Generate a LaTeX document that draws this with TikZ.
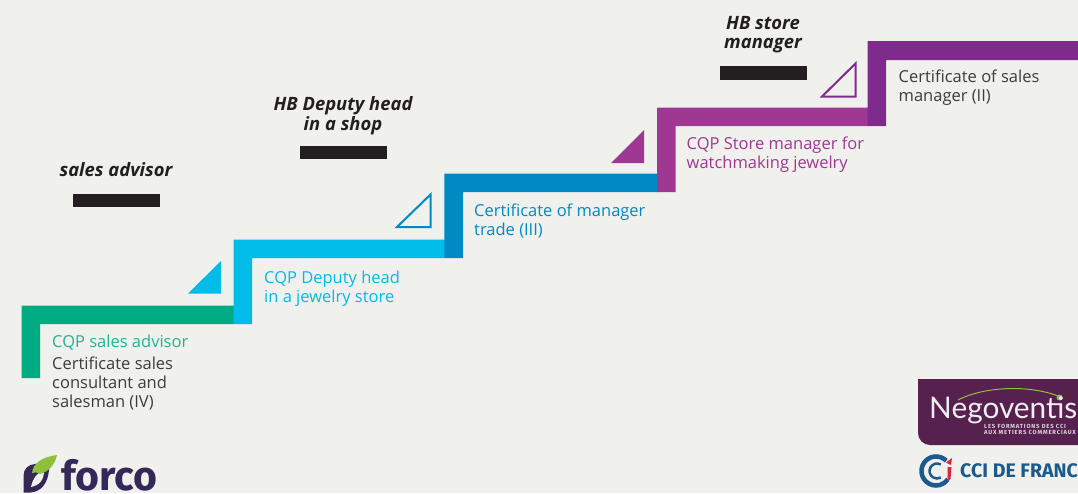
\documentclass[tikz,border=0pt]{standalone}
\usepackage{fontspec}
\setmainfont{Open Sans}
\newfontfamily\logofont{Fira Sans}
\newfontfamily\negofont{Lato}
\newfontfamily\subfont[LetterSpace=14]{Fira Sans}
\definecolor{bgc}{HTML}{F0F0EC}
\definecolor{cgreen}{HTML}{00AB84}
\definecolor{ccyan}{HTML}{00BCE9}
\definecolor{cblue}{HTML}{008AC4}
\definecolor{cpink}{HTML}{9F3893}
\definecolor{cpurple}{HTML}{7F2A8D}
\definecolor{cdark}{HTML}{3C3C3C}
\definecolor{cblack}{HTML}{231F20}
\definecolor{forcoc}{HTML}{352858}
\definecolor{leafc}{HTML}{8FBF3F}
\definecolor{negoc}{HTML}{57214F}
\definecolor{ccic}{HTML}{1B5A8C}
\definecolor{ccir}{HTML}{D9263F}
\tikzset{
  body/.style={anchor=base west,inner sep=0pt,align=left,font=\fontsize{16.5}{18.6}\selectfont},
  head/.style={anchor=base,inner sep=0pt,align=center,text=cblack,font=\fontsize{18.4}{19.5}\selectfont\bfseries\itshape},
  bar/.style={fill=cblack,draw=none},
  tri/.style={line width=2pt,line join=miter}
}
\begin{document}
\begin{tikzpicture}[x=1pt,y=-1pt]
\useasboundingbox (0,0) rectangle (1078,493);
\clip (0,0) rectangle (1078,493);
\fill[bgc] (0,0) rectangle (1078,493);
% steps
\fill[cgreen] (21.5,378) -- (21.5,305.5) -- (234,305.5) -- (234,324) -- (40,324) -- (40,378) -- cycle;
\fill[ccyan] (233.5,324) -- (233.5,239.5) -- (445,239.5) -- (445,258) -- (252,258) -- (252,324) -- cycle;
\fill[cblue] (444.3,258) -- (444.3,173.5) -- (658,173.5) -- (658,192) -- (463,192) -- (463,258) -- cycle;
\fill[cpink] (657,192) -- (657,107.5) -- (868,107.5) -- (868,126) -- (675.5,126) -- (675.5,192) -- cycle;
\fill[cpurple] (867.5,126) -- (867.5,41) -- (1078,41) -- (1078,60) -- (886,60) -- (886,126) -- cycle;
% triangles
\fill[ccyan] (188,293.5) -- (221,261) -- (221,293.5) -- cycle;
\draw[cblue,tri] (397,227) -- (430.5,194.5) -- (430.5,227) -- cycle;
\fill[cpink] (611,163) -- (644,130) -- (644,163) -- cycle;
\draw[cpurple,tri] (822,96.5) -- (855.5,63.5) -- (855.5,96.5) -- cycle;
% bars
\fill[bar] (72.5,193.5) rectangle (160,207);
\fill[bar] (299.5,145.5) rectangle (387,159);
\fill[bar] (720,66) rectangle (807,79.5);
% headings
\node[head] (h1) at (116,176) {sales advisor};
\node[head] (h2) at (343,130) {HB Deputy head\\in a shop};
\node[head] (h3) at (763,48.5) {HB store\\manager};
% step labels
\node[body,text=cgreen!88!white] (t1) at (52,347) {CQP sales advisor};
\node[body,text=cdark] (t1b) at (52,407) {Certificate sales\\consultant and\\salesman (IV)};
\node[body,text=ccyan] (t2) at (264,302) {CQP Deputy head\\in a jewelry store};
\node[body,text=cblue] (t3) at (474,235) {Certificate of manager\\trade (III)};
\node[body,text=cpink] (t4) at (686.5,168) {CQP Store manager for\\watchmaking jewelry};
\node[body,text=cdark] (t5) at (898.5,101) {Certificate of sales\\manager (II)};
% forco logo
\fill[forcoc] (35,464) -- (50,462.5) -- (49,470) .. controls (48,482) and (42,492) .. (30,492.5) -- (23.5,492.5) -- (23.5,476) .. controls (23.5,469) and (28,464.5) .. (35,464) -- cycle;
\fill[bgc] (31,487) .. controls (33,478) and (36,474) .. (44,470) .. controls (44,480) and (40,485) .. (31,487) -- cycle;
\fill[leafc] (32,473) .. controls (33,463) and (42,457) .. (57,455) .. controls (55,465) and (48,472) .. (40,474) .. controls (37,472) and (34,472) .. (32,473) -- cycle;
\node[anchor=base west,inner sep=0pt,text=forcoc,font=\logofont\fontsize{41}{41}\selectfont\bfseries] (forco) at (61,490) {forco};
% negoventis logo
\fill[negoc,rounded corners=12pt] (918,379) -- (918,445) -- (1090,445) -- (1090,379) -- cycle;
\fill[negoc] (918,379) rectangle (935,400);
\draw[leafc,line width=1pt] (958,400) .. controls (985,386) and (1030,385) .. (1058,396);
\fill[leafc] (1059.5,397.5) circle (3pt);
\node[anchor=base west,inner sep=0pt,text=white!92!negoc,font=\negofont\fontsize{29.8}{29.8}\selectfont] (nego) at (929,418) {Negoventis};
\node[anchor=base west,inner sep=0pt,align=left,text=white!80!negoc,font=\subfont\fontsize{5.9}{6}\selectfont\bfseries] (negosub) at (984,434) {LES FORMATIONS DES CCI\\AUX METIERS COMMERCIAUX};
% CCI logo
\draw[ccic,line width=4.5pt] (936,471) ++(45:14.5pt) arc[start angle=45,end angle=325,radius=14.5pt];
\draw[ccic,line width=2.5pt] (937,471) ++(60:7.5pt) arc[start angle=60,end angle=300,radius=7.5pt];
\fill[ccir] (946,462.5) -- (952,458) -- (951,465) -- cycle;
\fill[ccir] (947.5,467) -- (951.5,467) -- (950.5,479) -- (947.5,481) -- cycle;
\node[anchor=base west,inner sep=0pt,text=ccic,font=\logofont\fontsize{19.6}{19.6}\selectfont\bfseries] (cci) at (960,477.5) {CCI DE FRANC};
\end{tikzpicture}
\end{document}
